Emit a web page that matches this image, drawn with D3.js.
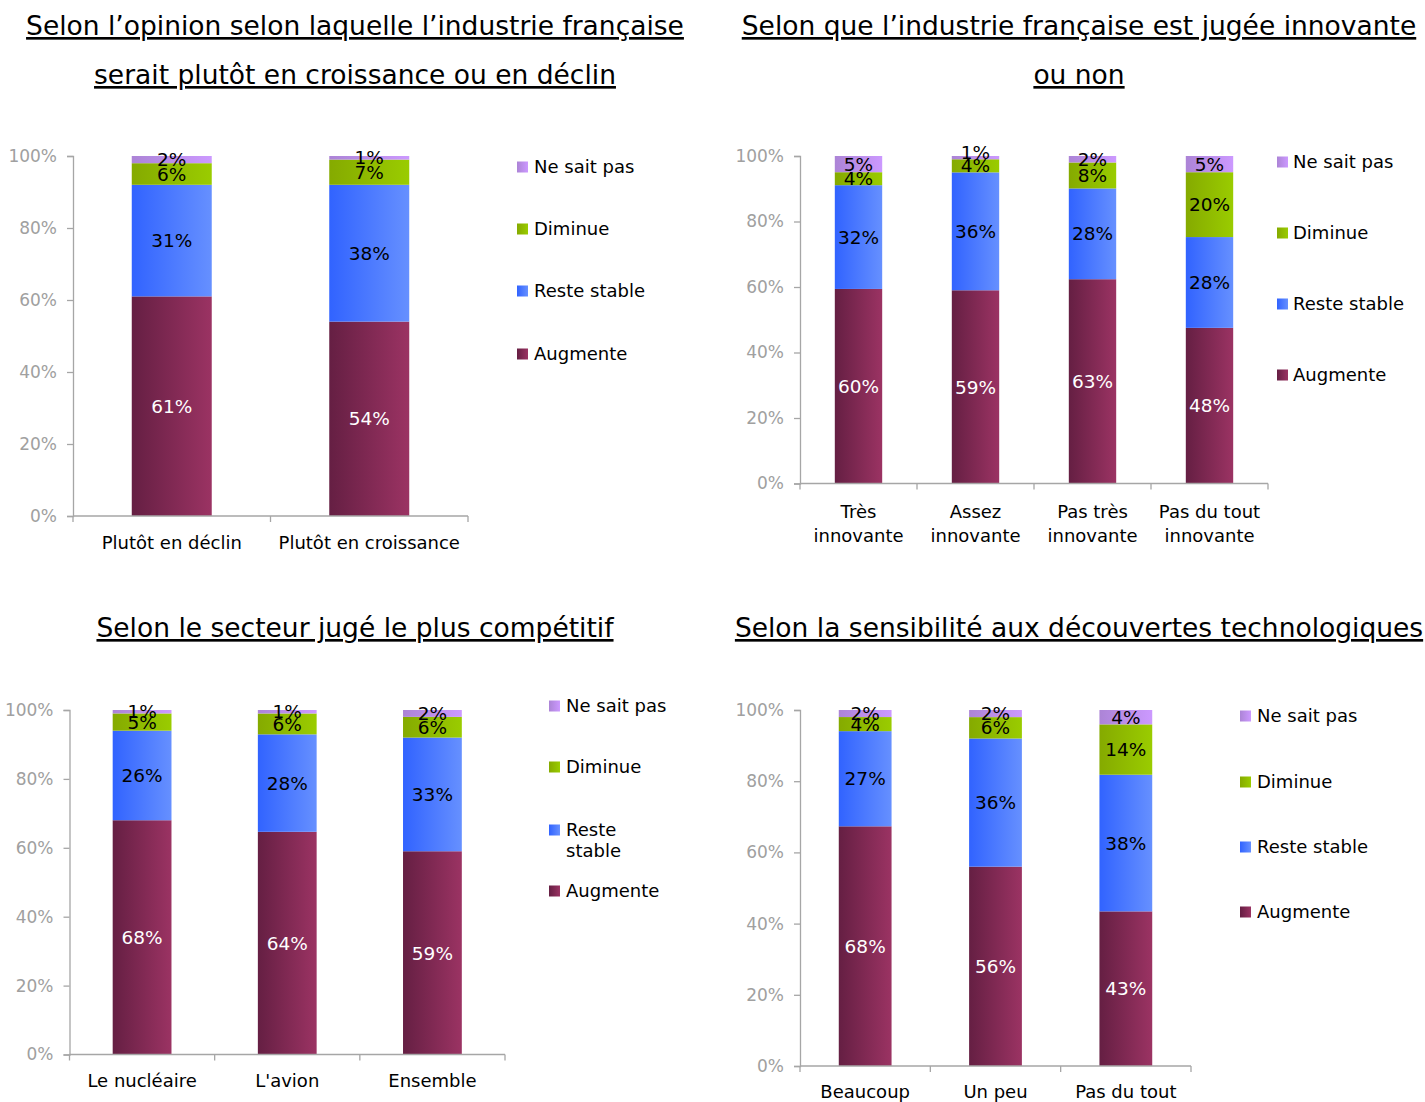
<!DOCTYPE html>
<html><head><meta charset="utf-8">
<script src="https://cdn.jsdelivr.net/npm/d3@7"></script>
<style>
body{margin:0;background:#fff;}
svg text{font-family:"DejaVu Sans",Verdana,sans-serif;}
</style></head>
<body>
<svg id="root" width="1425" height="1102"></svg>
<script>
// ---------- DATA ----------
const seriesKeys = ["Augmente", "Reste stable", "Diminue", "Ne sait pas"];
const legendOrder = ["Ne sait pas", "Diminue", "Reste stable", "Augmente"];
const yTickValues = [0, 0.2, 0.4, 0.6, 0.8, 1];
const yTickLabels = ["0%", "20%", "40%", "60%", "80%", "100%"];

// Chart 1
const c1Title = ["Selon l’opinion selon laquelle l’industrie française", "serait plutôt en croissance ou en déclin"];
const c1Categories = ["Plutôt en déclin", "Plutôt en croissance"];
const c1Augmente = [61, 54];
const c1Stable = [31, 38];
const c1Diminue = [6, 7];
const c1Nsp = [2, 1];

// Chart 2
const c2Title = ["Selon que l’industrie française est jugée innovante", "ou non"];
const c2Categories = ["Très\ninnovante", "Assez\ninnovante", "Pas très\ninnovante", "Pas du tout\ninnovante"];
const c2Augmente = [60, 59, 63, 48];
const c2Stable = [32, 36, 28, 28];
const c2Diminue = [4, 4, 8, 20];
const c2Nsp = [5, 1, 2, 5];

// Chart 3
const c3Title = ["Selon le secteur jugé le plus compétitif"];
const c3Categories = ["Le nucléaire", "L'avion", "Ensemble"];
const c3Augmente = [68, 64, 59];
const c3Stable = [26, 28, 33];
const c3Diminue = [5, 6, 6];
const c3Nsp = [1, 1, 2];

// Chart 4
const c4Title = ["Selon la sensibilité aux découvertes technologiques"];
const c4Categories = ["Beaucoup", "Un peu", "Pas du tout"];
const c4Augmente = [68, 56, 43];
const c4Stable = [27, 36, 38];
const c4Diminue = [4, 6, 14];
const c4Nsp = [2, 2, 4];

// ---------- STYLE ----------
const gradients = {
  "Augmente": ["#651f43", "#9b3363"],
  "Reste stable": ["#3163ff", "#6690ff"],
  "Diminue": ["#85aa00", "#9acc00"],
  "Ne sait pas": ["#ac84d6", "#cc99ff"]
};
const labelColor = {"Augmente": "#ffffff", "Reste stable": "#000", "Diminue": "#000", "Ne sait pas": "#000"};

const svg = d3.select("#root");
const defs = svg.append("defs");
seriesKeys.forEach((k, i) => {
  const g = defs.append("linearGradient").attr("id", "grad" + i)
    .attr("x1", "0%").attr("x2", "100%").attr("y1", "0%").attr("y2", "0%");
  g.append("stop").attr("offset", "0%").attr("stop-color", gradients[k][0]);
  g.append("stop").attr("offset", "100%").attr("stop-color", gradients[k][1]);
});
const gradId = k => "url(#grad" + seriesKeys.indexOf(k) + ")";

function buildRows(cats, a, s, d, n) {
  return cats.map((c, i) => ({cat: c, "Augmente": a[i], "Reste stable": s[i], "Diminue": d[i], "Ne sait pas": n[i]}));
}

const charts = [
  {title: c1Title, titleX: 355, titleY: [35, 84], rows: buildRows(c1Categories, c1Augmente, c1Stable, c1Diminue, c1Nsp),
   x0: 73, x1: 468, y0: 516, y1: 156, catY: 549, catLine: 24,
   legend: {sx: 517, tx: 534, ys: {"Ne sait pas": 167, "Diminue": 229, "Reste stable": 291, "Augmente": 354}}},
  {title: c2Title, titleX: 1079, titleY: [35, 84], rows: buildRows(c2Categories, c2Augmente, c2Stable, c2Diminue, c2Nsp),
   x0: 800, x1: 1268, y0: 483.5, y1: 156, catY: 518, catLine: 24,
   legend: {sx: 1277, tx: 1293, ys: {"Ne sait pas": 162, "Diminue": 233, "Reste stable": 304, "Augmente": 375}},
   nudge: {"1|Ne sait pas": -5}},
  {title: c3Title, titleX: 355, titleY: [637], rows: buildRows(c3Categories, c3Augmente, c3Stable, c3Diminue, c3Nsp),
   x0: 69.5, x1: 505, y0: 1054.5, y1: 710, catY: 1087, catLine: 24,
   legend: {sx: 549, tx: 566, ys: {"Ne sait pas": 706, "Diminue": 767, "Reste stable": 830, "Augmente": 891}, wrap: {"Reste stable": ["Reste", "stable"]}}},
  {title: c4Title, titleX: 1079, titleY: [637], rows: buildRows(c4Categories, c4Augmente, c4Stable, c4Diminue, c4Nsp),
   x0: 800, x1: 1191, y0: 1066, y1: 710, catY: 1098, catLine: 24,
   legend: {sx: 1240, tx: 1257, ys: {"Ne sait pas": 716, "Diminue": 782, "Reste stable": 847, "Augmente": 912}}}
];

const axisColor = "#a6a6a6";

charts.forEach(ch => {
  const g = svg.append("g");
  // Title
  ch.title.forEach((t, i) => {
    g.append("text").attr("x", ch.titleX).attr("y", ch.titleY[i])
      .attr("text-anchor", "middle").attr("font-size", 26.5).attr("fill", "#000")
      .attr("text-decoration", "underline").text(t);
  });

  const cats = ch.rows.map(r => r.cat);
  const x = d3.scaleBand().domain(cats).range([ch.x0, ch.x1]).padding(0);
  const y = d3.scaleLinear().domain([0, 1]).range([ch.y0, ch.y1]);
  const stack = d3.stack().keys(seriesKeys).offset(d3.stackOffsetExpand);
  const layers = stack(ch.rows);
  const bw = x.bandwidth() * 0.405;
  const nudge = ch.nudge || {};

  // Bars
  layers.forEach(layer => {
    const key = layer.key;
    g.append("g").selectAll("rect").data(layer).join("rect")
      .attr("x", d => x(d.data.cat) + x.bandwidth() / 2 - bw / 2)
      .attr("width", bw)
      .attr("y", d => y(d[1]))
      .attr("height", d => y(d[0]) - y(d[1]))
      .attr("fill", gradId(key));
  });
  // Labels
  layers.forEach(layer => {
    const key = layer.key;
    g.append("g").selectAll("text").data(layer).join("text")
      .attr("x", d => x(d.data.cat) + x.bandwidth() / 2)
      .attr("y", (d, i) => (y(d[0]) + y(d[1])) / 2 + (nudge[i + "|" + key] || 0))
      .attr("dy", "0.36em")
      .attr("text-anchor", "middle").attr("font-size", 18.5)
      .attr("fill", labelColor[key])
      .text(d => d.data[key] + "%");
  });

  // Y axis
  const yAxis = d3.axisLeft(y).tickValues(yTickValues).tickFormat((d, i) => yTickLabels[i]).tickSize(6).tickPadding(10);
  const ya = g.append("g").attr("transform", `translate(${ch.x0},0)`).call(yAxis);
  ya.select(".domain").attr("stroke", axisColor).attr("stroke-width", 1.3);
  ya.selectAll(".tick line").attr("stroke", axisColor).attr("stroke-width", 1.3);
  ya.selectAll(".tick text").attr("fill", "#a0a0a0").attr("font-size", 17).attr("font-family", "DejaVu Sans, Verdana, sans-serif");

  // X axis
  const xa = g.append("g").attr("transform", `translate(0,${ch.y0})`);
  xa.append("line").attr("x1", ch.x0).attr("x2", ch.x1).attr("y1", 0).attr("y2", 0)
    .attr("stroke", axisColor).attr("stroke-width", 1.3);
  const bounds = cats.map(c => x(c)).concat([ch.x1]);
  xa.selectAll("line.tk").data(bounds).join("line").attr("class", "tk")
    .attr("x1", d => d).attr("x2", d => d).attr("y1", 0).attr("y2", 6)
    .attr("stroke", axisColor).attr("stroke-width", 1.3);
  cats.forEach(c => {
    const lines = c.split("\n");
    const t = g.append("text").attr("text-anchor", "middle").attr("font-size", 18).attr("fill", "#000");
    lines.forEach((ln, i) => {
      t.append("tspan").attr("x", x(c) + x.bandwidth() / 2).attr("y", ch.catY + i * ch.catLine).text(ln);
    });
  });

  // Legend
  const L = ch.legend;
  legendOrder.forEach(k => {
    const yy = L.ys[k];
    g.append("rect").attr("x", L.sx).attr("y", yy - 5.5).attr("width", 11).attr("height", 11).attr("fill", gradId(k));
    const lines = (L.wrap && L.wrap[k]) ? L.wrap[k] : [k];
    const t = g.append("text").attr("font-size", 18).attr("fill", "#000");
    lines.forEach((ln, i) => {
      t.append("tspan").attr("x", L.tx).attr("y", yy + i * 21).attr("dy", "0.36em").text(ln);
    });
  });
});
</script>
</body></html>
